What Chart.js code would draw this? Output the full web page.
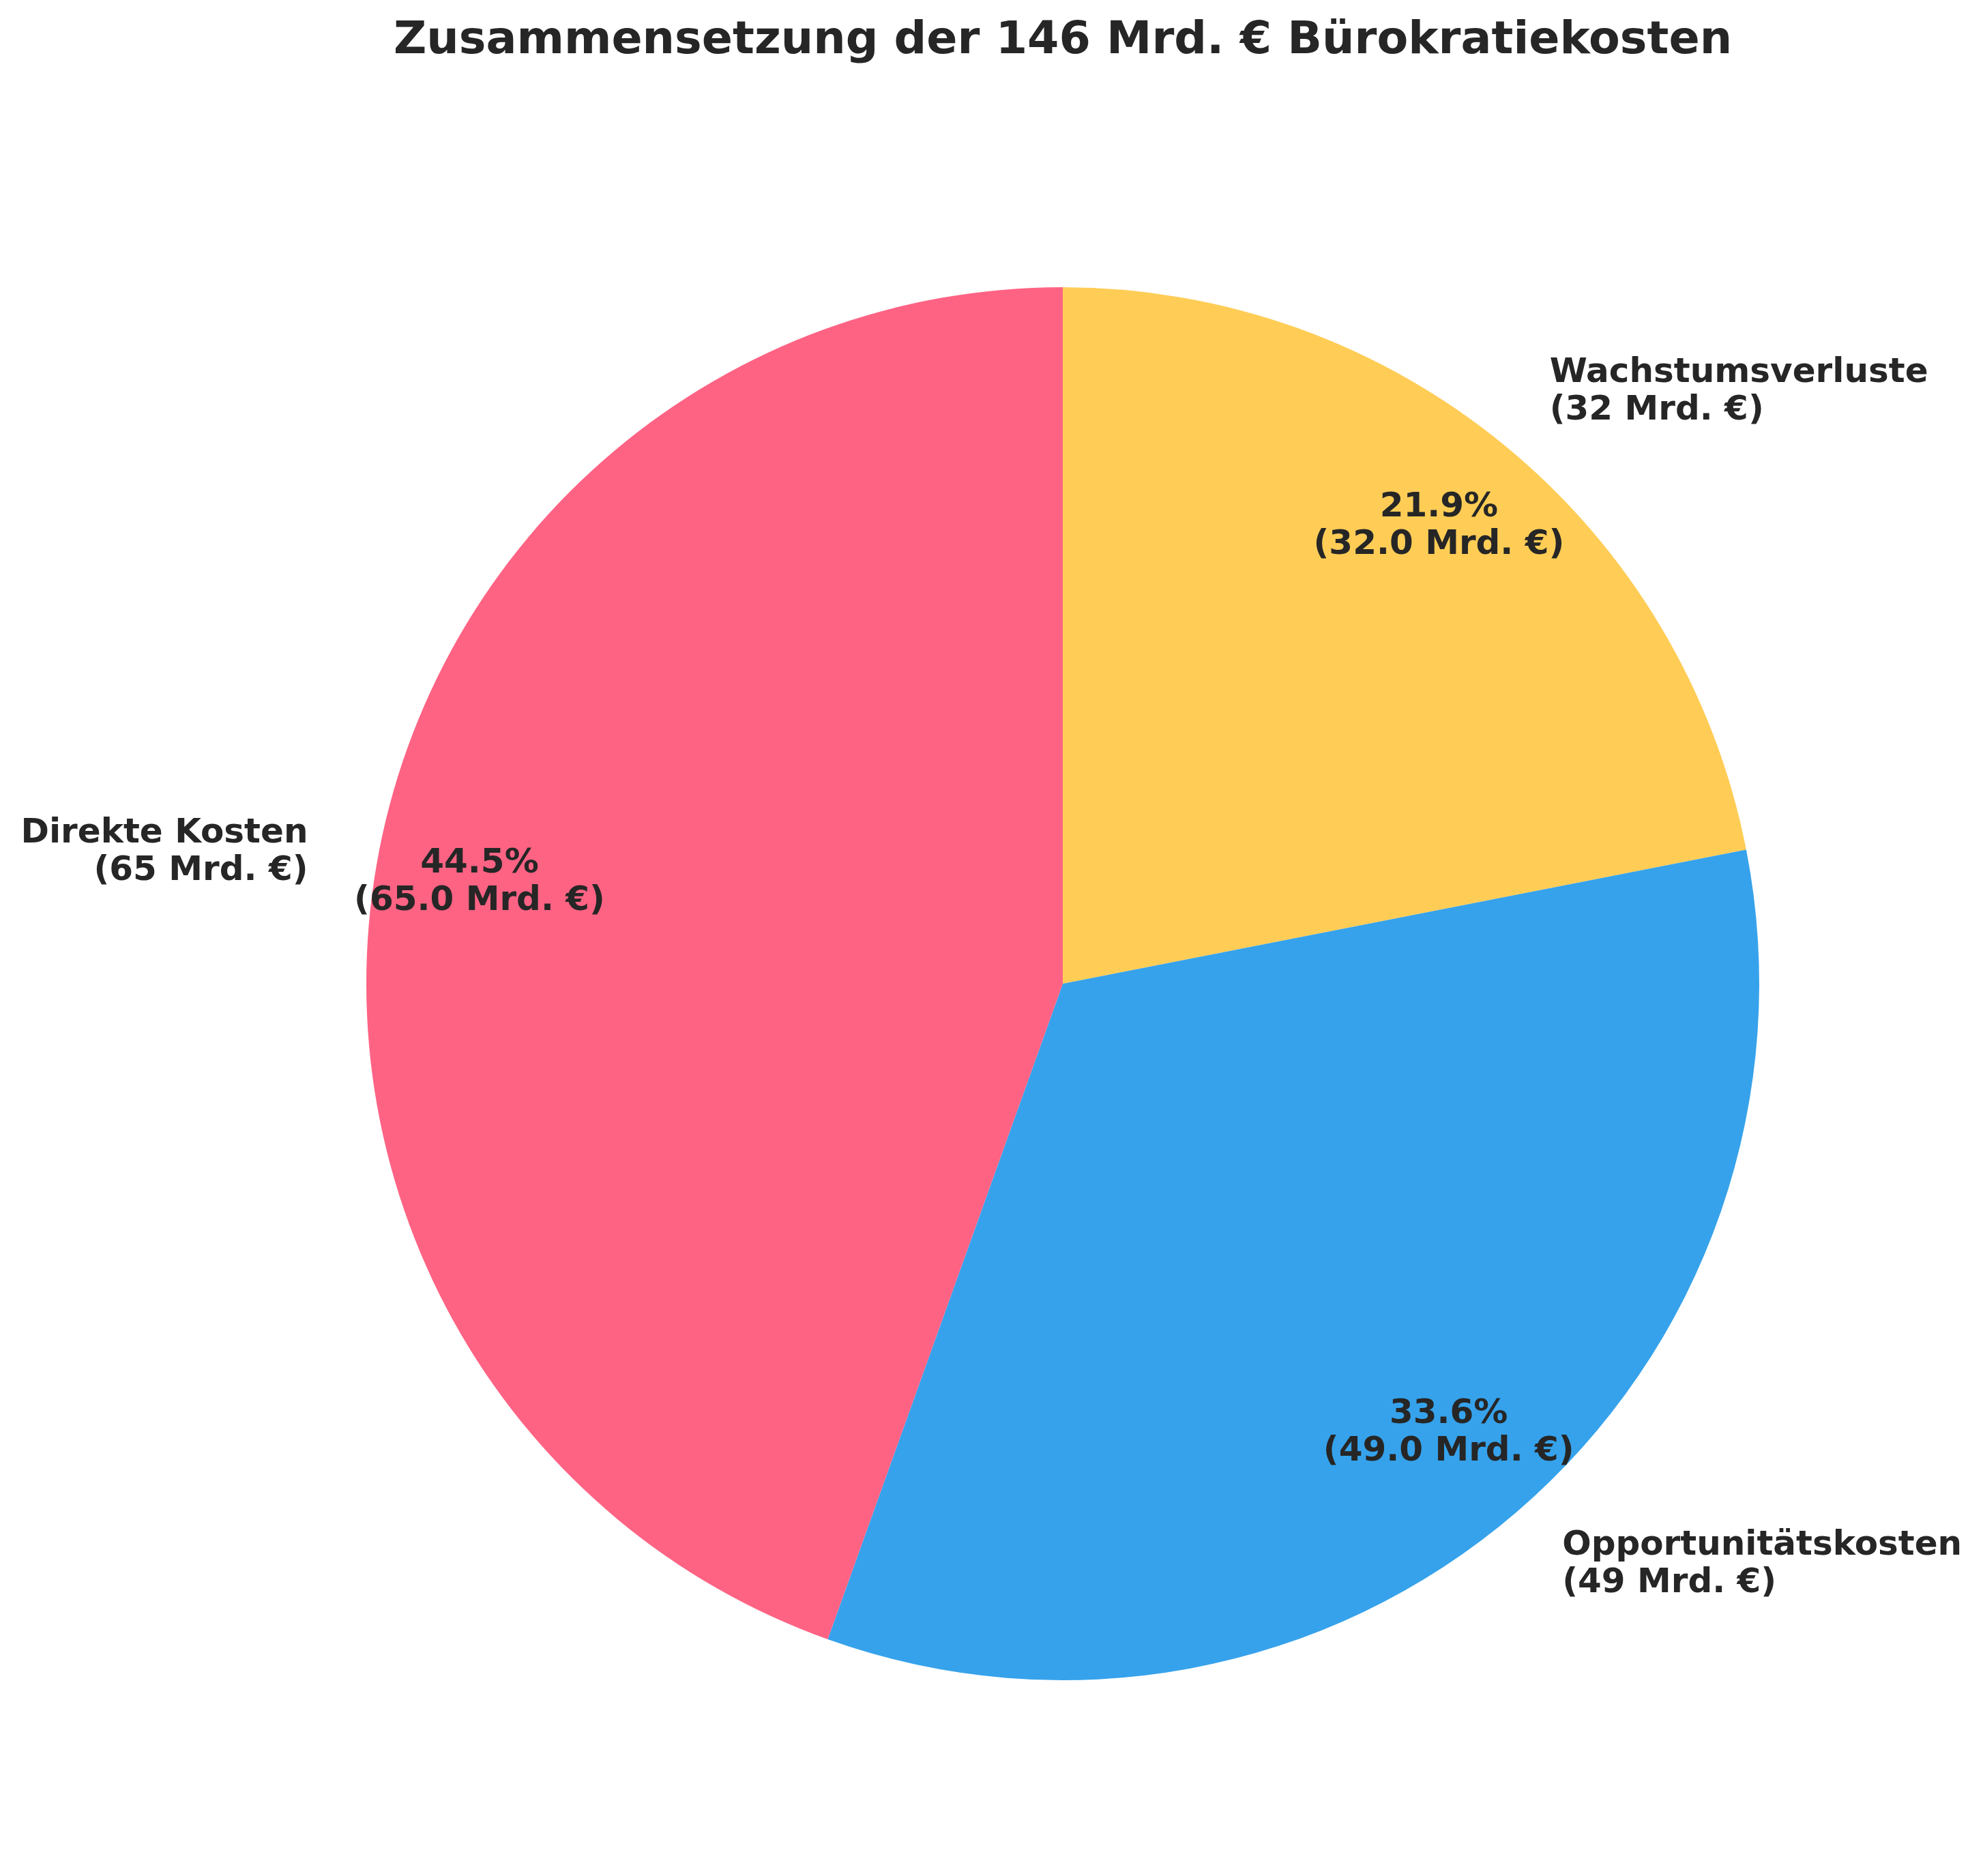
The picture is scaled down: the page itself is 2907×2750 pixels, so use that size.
<!DOCTYPE html>
<html>
<head>
<meta charset="utf-8">
<title>Bürokratiekosten</title>
<script src="https://cdn.jsdelivr.net/npm/chart.js@4/dist/chart.umd.min.js"></script>
<style>
  html, body { margin: 0; padding: 0; background: #ffffff; }
  canvas { display: block; }
</style>
</head>
<body>
<canvas id="chart" width="2907" height="2750"></canvas>
<script>
// clockwise from 12 o'clock, as in the picture
let kategorien = ["Wachstumsverluste", "Opportunitätskosten", "Direkte Kosten"];
let werte = [32, 49, 65];
let farben = ["#FFCD56", "#36A2EB", "#FF6384"];

let summe = werte.reduce((a, b) => a + b, 0);
let textFarbe = "#262626";
let schrift = "'DejaVu Sans', sans-serif";

// labels outside the slice and percent text inside
let beschriftung = {
  id: "beschriftung",
  afterDatasetsDraw(chart) {
    let ctx = chart.ctx;
    let meta = chart.getDatasetMeta(0);
    ctx.save();
    ctx.fillStyle = textFarbe;
    ctx.font = "bold 50px " + schrift;
    ctx.textBaseline = "middle";
    meta.data.forEach((arc, i) => {
      let p = arc.getProps(["x", "y", "startAngle", "endAngle", "outerRadius"], true);
      let mitte = (p.startAngle + p.endAngle) / 2;
      let cos = Math.cos(mitte), sin = Math.sin(mitte);
      let zeilenAbstand = 55;

      // outer label at 1.1 r
      let lx = p.x + 1.1 * p.outerRadius * cos;
      let ly = p.y + 1.1 * p.outerRadius * sin;
      ctx.textAlign = cos >= 0 ? "left" : "right";
      let aussen = [kategorien[i], "(" + werte[i] + " Mrd. €)"];
      aussen.forEach((z, k) => ctx.fillText(z, lx, ly + (k - 0.5) * zeilenAbstand));

      // inner label at 0.85 r
      let ix = p.x + 0.85 * p.outerRadius * cos;
      let iy = p.y + 0.85 * p.outerRadius * sin;
      ctx.textAlign = "center";
      let innen = [(werte[i] / summe * 100).toFixed(1) + "%", "(" + werte[i].toFixed(1) + " Mrd. €)"];
      innen.forEach((z, k) => ctx.fillText(z, ix, iy + (k - 0.5) * zeilenAbstand));
    });
    ctx.restore();
  }
};

new Chart("chart", {
  type: "pie",
  data: {
    labels: kategorien,
    datasets: [{
      data: werte,
      backgroundColor: farben,
      borderWidth: 0
    }]
  },
  options: {
    responsive: false,
    animation: false,
    devicePixelRatio: 1,
    rotation: 0,
    layout: {
      padding: { top: 0, left: 537, right: 328, bottom: 287 }
    },
    plugins: {
      legend: { display: false },
      tooltip: { enabled: false },
      title: {
        display: true,
        text: "Zusammensetzung der 146 Mrd. € Bürokratiekosten",
        color: textFarbe,
        font: { family: schrift, size: 66.7, weight: "bold", lineHeight: 1.2 },
        padding: { top: 21, bottom: 320 }
      }
    }
  },
  plugins: [beschriftung]
});
</script>
</body>
</html>
